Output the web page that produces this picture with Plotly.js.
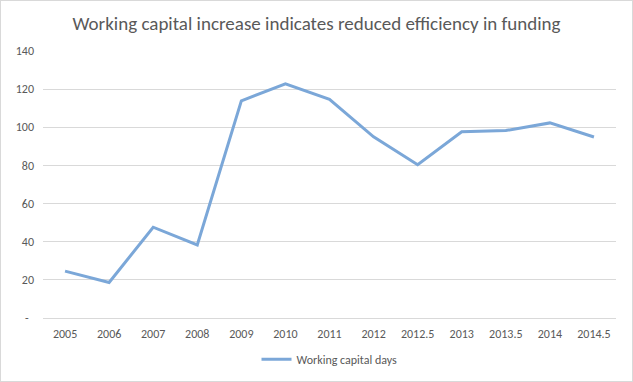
<!DOCTYPE html>
<html>
<head>
<meta charset="utf-8">
<script src="https://cdn.plot.ly/plotly-3.0.1.min.js"></script>
<style>
  html, body { margin: 0; padding: 0; background: #fff; }
  #chart { width: 633px; height: 382px; box-sizing: border-box; border: 1px solid #d9d9d9; }
</style>
</head>
<body>
<div id="chart"></div>
<script>
const categories = ["2005","2006","2007","2008","2009","2010","2011","2012","2012.5","2013","2013.5","2014","2014.5"];
const workingCapitalDays = [24.6, 18.6, 47.6, 38.3, 113.9, 122.8, 114.6, 95.0, 80.4, 97.6, 98.3, 102.3, 94.9];
const yTickVals = [0, 20, 40, 60, 80, 100, 120, 140];
const yTickText = ["-  ", "20", "40", "60", "80", "100", "120", "140"];
const seriesName = "Working capital days";
const chartTitle = "Working capital increase indicates reduced efficiency in funding";

const FONT = "Calibri, Carlito, 'Liberation Sans Narrow', 'Noto Sans', sans-serif";

Plotly.newPlot("chart", [{
  type: "scatter",
  mode: "lines",
  x: categories,
  y: workingCapitalDays,
  name: seriesName,
  line: { color: "#7ba7d8", width: 3 }
}], {
  width: 631,
  height: 380,
  margin: { l: 42, r: 16, t: 50, b: 63, autoexpand: false },
  paper_bgcolor: "#fff",
  plot_bgcolor: "#fff",
  font: { family: FONT, size: 12, color: "#595959" },
  title: {
    text: chartTitle,
    font: { family: FONT, size: 19, color: "#595959" },
    x: 0.5, xanchor: "center", y: 0.94, yanchor: "middle"
  },
  showlegend: true,
  legend: {
    orientation: "h",
    x: 0.5, xanchor: "center",
    yref: "container",
    y: 0.057, yanchor: "middle",
    font: { family: FONT, size: 12, color: "#595959" }
  },
  xaxis: {
    type: "category",
    range: [-0.5, categories.length - 0.5],
    showgrid: false,
    showline: true,
    linecolor: "#d9d9d9",
    linewidth: 1,
    ticks: "",
    ticklabelstandoff: 5,
    tickfont: { size: 12, color: "#595959" },
    zeroline: false,
    fixedrange: true
  },
  yaxis: {
    range: [0, 140],
    tickvals: yTickVals,
    ticktext: yTickText,
    showgrid: true,
    gridcolor: "#d9d9d9",
    gridwidth: 1,
    zeroline: false,
    showline: false,
    ticks: "",
    ticklabelstandoff: 8,
    tickfont: { size: 12, color: "#595959" },
    fixedrange: true
  }
}, { displayModeBar: false, staticPlot: true });
</script>
</body>
</html>
